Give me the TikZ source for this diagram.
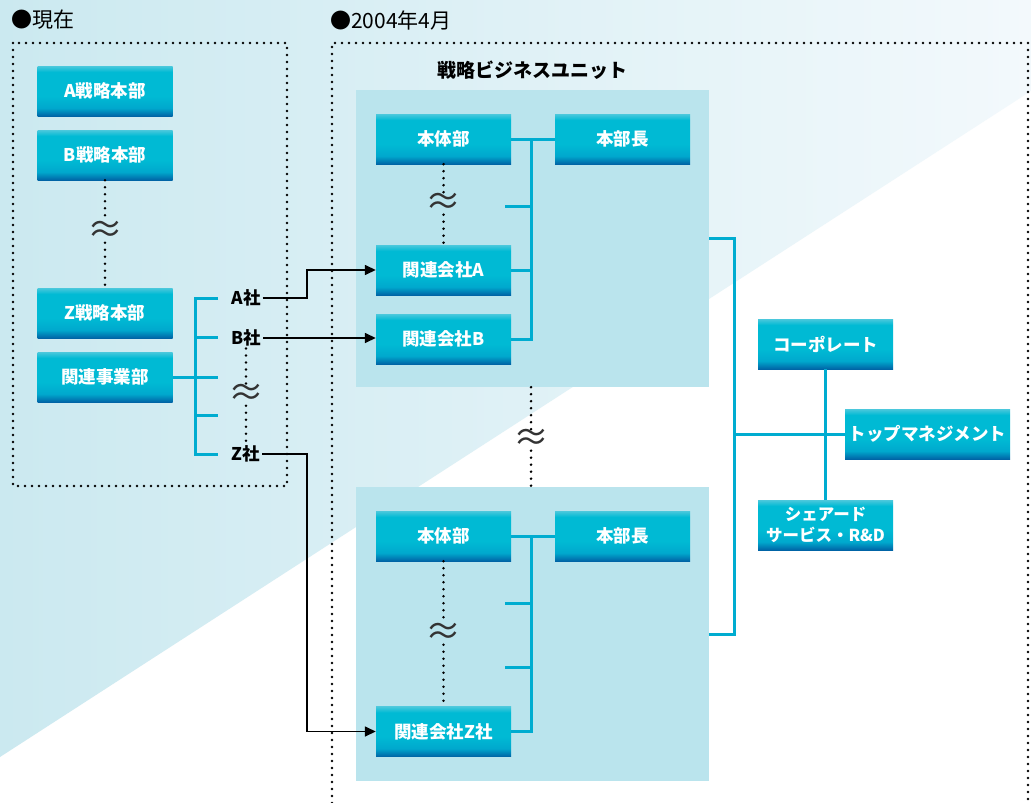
\documentclass[tikz,border=0pt]{standalone}
\usepackage{fontspec}
\newfontfamily\jp{Noto Sans CJK JP}
\usetikzlibrary{arrows.meta}
\definecolor{btop}{RGB}{75,200,220}
\definecolor{bmain}{RGB}{0,186,212}
\definecolor{bmid}{RGB}{0,168,205}
\definecolor{bdark}{RGB}{0,100,166}
\definecolor{buc}{RGB}{186,228,237}
\definecolor{bgL}{RGB}{203,233,240}
\definecolor{bgR}{RGB}{243,249,252}
\definecolor{lnc}{RGB}{0,172,208}
\pgfdeclareverticalshading{boxshade}{100bp}{color(0bp)=(bdark); color(25bp)=(bdark); color(33bp)=(bmid); color(45bp)=(bmain); color(69bp)=(bmain); color(75bp)=(btop); color(100bp)=(btop)}
\tikzset{
  bx/.style={shade, shading=boxshade, minimum width=135, minimum height=50, inner sep=0pt,
    font=\jp\bfseries\fontsize{17.5}{21}\selectfont, text=white, align=center},
  bubox/.style={fill=buc, minimum width=353, inner sep=0pt},
  dotl/.style={draw=black, line width=2.9pt, dash pattern=on 0pt off 7pt, line cap=round},
  lnk/.style={draw=lnc, line width=3pt},
  arr/.style={draw=black, line width=1.5pt, -{Triangle[length=11pt,width=10pt]}},
  wv/.style={font=\jp\fontsize{36}{36}\selectfont, inner sep=0pt, text=black!80,
    text height=21pt, text depth=-6pt},
  lab/.style={font=\jp\bfseries\fontsize{17.5}{20}\selectfont, inner sep=2pt},
  hdr/.style={font=\jp\fontsize{21}{24}\selectfont, inner sep=0pt, anchor=west},
  ttl/.style={font=\jp\bfseries\fontsize{19}{22}\selectfont, inner sep=0pt}
}
\begin{document}
\begin{tikzpicture}[x=1pt,y=-1pt]
% background
\fill[white] (0,0) rectangle (1031,803);
\useasboundingbox (0,0) rectangle (1031,803);
\shade[left color=bgL, right color=bgR] (0,0) -- (1031,0) -- (1031,91) -- (0,757) -- cycle;

% headers
\node[hdr] (h1) at (11,20) {●現在};
\node[hdr] (h2) at (330,20) {●2004年4月};

% dotted frames
\draw[dotl] (13,43) rectangle (287,486);
\draw[dotl] (332,803) -- (332,43) -- (1028,43) -- (1028,803);

% business unit containers
\node[bubox, minimum height=297] (bu1) at (532.5,238.5) {};
\node[bubox, minimum height=294] (bu2) at (532.5,634) {};
\node[ttl] (bt) at (532,70) {戦略ビジネスユニット};

% left boxes
\node[bx] (As) at (105,91) {A戦略本部};
\node[bx] (Bs) at (105,155) {B戦略本部};
\node[bx] (Zs) at (105,313) {Z戦略本部};
\node[bx] (Kj) at (105,377) {関連事業部};
\node[wv] (w1) at (105,232) {≈};
\draw[dotl] (Bs) -- (w1);
\draw[dotl] (w1) -- (Zs);

% left bracket
\coordinate (lb) at (195,377);
\coordinate (tA) at (218,298);
\coordinate (tB) at (218,337.5);
\coordinate (t3) at (218,377);
\coordinate (t4) at (218,415);
\coordinate (tZ) at (218,454);
\draw[lnk] (tA) -- (tA -| lb) -- (tZ -| lb) -- (tZ);
\draw[lnk] (Kj.east) -- (t3);
\draw[lnk] (tB -| lb) -- (tB);
\draw[lnk] (t4 -| lb) -- (t4);

% company labels
\node[lab] (Ac) at (246,298) {A社};
\node[lab] (Bc) at (246,338) {B社};
\node[lab] (Zc) at (246,454) {Z社};
\node[wv] (w2) at (246,395) {≈};
\draw[dotl] (Bc) -- (w2);
\draw[dotl] (w2) -- (Zc);

% unit 1
\node[bx] (hon1) at (443.5,139) {本体部};
\node[bx] (chou1) at (622.5,139) {本部長};
\node[bx] (kA) at (443.5,270) {関連会社A};
\node[bx] (kB) at (443.5,339) {関連会社B};
\coordinate (v1) at (531,139);
\coordinate (s1) at (505,206);
\draw[lnk] (hon1.east) -- (chou1.west);
\draw[lnk] (kB.east) -| (v1);
\draw[lnk] (kA.east) -- (kA.east -| v1);
\draw[lnk] (s1) -- (s1 -| v1);
\node[wv] (w3) at (443.5,204) {≈};
\draw[dotl] (hon1) -- (w3);
\draw[dotl] (w3) -- (kA);

% unit 2
\node[bx] (hon2) at (443.5,536) {本体部};
\node[bx] (chou2) at (622.5,536) {本部長};
\node[bx] (kZ) at (443.5,731.5) {関連会社Z社};
\coordinate (v2) at (531,536);
\coordinate (s2) at (505,603);
\coordinate (s3) at (505,667);
\draw[lnk] (hon2.east) -- (chou2.west);
\draw[lnk] (kZ.east) -| (v2);
\draw[lnk] (s2) -- (s2 -| v2);
\draw[lnk] (s3) -- (s3 -| v2);
\node[wv] (w4) at (443.5,634) {≈};
\draw[dotl] (hon2) -- (w4);
\draw[dotl] (w4) -- (kZ);

% between units
\node[wv] (w5) at (531,440) {≈};
\draw[dotl] (w5 |- bu1.south) -- (w5);
\draw[dotl] (w5) -- (w5 |- bu2.north);

% arrows
\coordinate (jx) at (307,0);
\draw[arr] (Ac.east) -- (Ac.east -| jx) |- (kA.west);
\draw[arr] (Bc.east) -- (Bc.east -| kB.west);
\draw[arr] (Zc.east) -- (Zc.east -| jx) |- (kZ.west);

% right side
\node[bx] (corp) at (825.5,344) {コーポレート};
\node[bx, minimum width=165] (top) at (927.5,434) {トップマネジメント};
\node[bx, font=\jp\bfseries\fontsize{16.5}{21}\selectfont] (shd) at (825.5,525) {シェアード\\サービス・R\&D};
\coordinate (rb) at (734,434);
\draw[lnk] (bu1.east) -| (rb) |- (bu2.east);
\draw[lnk] (rb) -- (top.west);
\draw[lnk] (corp) -- (shd);
\end{tikzpicture}
\end{document}
